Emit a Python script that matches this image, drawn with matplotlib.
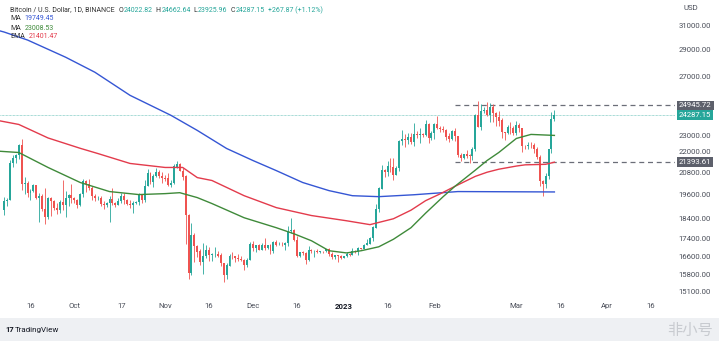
import pandas as pd
import matplotlib.pyplot as plt
import matplotlib.dates as mdates
from matplotlib.ticker import NullLocator, FixedLocator
from matplotlib.transforms import blended_transform_factory
from matplotlib.patches import Rectangle

# daily candles BTC/USD (Binance), 2022-09-07 .. 2023-03-14
start = '2022-09-07'
opens = [18790, 19290, 19320, 21360, 21650, 21830, 22400, 20170, 20230, 19700, 19800, 20110, 19420, 19540,
         18880, 18480, 19400, 19290, 18920, 18800, 19220, 19080, 19410, 19590,
         19420, 19310, 19060, 19620, 20340, 20160, 19960, 19530, 19420, 19440, 19130, 19060, 19160, 19380,
         19180, 19070, 19260, 19550, 19330, 19120, 19040, 19160, 19200, 19570, 19330, 20080, 20770, 20290,
         20600, 20810, 20630,
         20490, 20480, 20150, 20210, 21150, 21300, 20900, 20590, 18540, 15880, 17590, 17070, 16810, 16330,
         16620, 16900, 16660, 16690, 16700, 16630, 16280, 15780, 16190, 16610, 16600, 16520, 16460, 16430,
         16210, 16440,
         17170, 16970, 17090, 16890, 17110, 16970, 17090, 16840, 17230, 17130, 17130, 17090, 17210, 17780,
         17810, 17360, 16630, 16780, 16740, 16440, 16900, 16820, 16830, 16780, 16840, 16830, 16910, 16700,
         16550, 16630, 16600,
         16540, 16620, 16680, 16670, 16850, 16830, 16950, 16940, 17120, 17180, 17440, 17940, 18850, 19930,
         20950, 20870, 21180, 21140, 20670, 21070, 22670, 22780, 22710, 22920, 22630, 23060, 23010, 23080,
         23030, 23740, 22830,
         23130, 23730, 23490, 23430, 23330, 22940, 22760, 23260, 22960, 21800, 21630, 21860, 21790, 21780,
         22200, 24330, 23520, 24570, 24630, 24280, 24840, 24440, 24190, 23950, 23190, 23160, 23560, 23490,
         23140, 23650, 23470, 22360, 22350, 22430, 22410, 22200, 21700, 20360, 20190, 20630, 22160, 24022.82]
highs = [19460, 19450, 21550, 21800, 21860, 22490, 22800, 20550, 20340, 19890, 20190, 20110, 19690, 19630,
         19950, 19500, 19490, 19320, 19180, 19310, 20380, 19790, 19650, 20190,
         19480, 19390, 19720, 20480, 20370, 20460, 20060, 19620, 19560, 19530, 19260, 19230, 19510, 19950,
         19230, 19420, 19680, 19700, 19360, 19350, 19250, 19250, 19690, 19600, 20410, 21020, 20870, 20750,
         21090, 20930, 20840,
         20700, 20800, 20390, 21300, 21480, 21360, 21070, 20670, 18590, 18150, 17660, 17090, 16950, 17190,
         17130, 17000, 16750, 17010, 16820, 16750, 16290, 16280, 16680, 16810, 16610, 16700, 16600, 16480,
         16530, 17250,
         17320, 17100, 17150, 17200, 17420, 17110, 17140, 17300, 17360, 17230, 17270, 17240, 18000, 18390,
         17850, 17530, 16800, 16860, 16810, 17060, 16920, 16870, 16950, 16860, 16860, 16940, 16970, 16780,
         16660, 16650, 16640,
         16630, 16790, 16760, 16990, 16880, 17040, 16980, 17180, 17390, 17490, 17990, 19120, 19990, 21260,
         21000, 21470, 21640, 21650, 21190, 22750, 23370, 23080, 23170, 23160, 23820, 23290, 23500, 23170,
         23960, 23790, 23310,
         23810, 24260, 23590, 23580, 23430, 23160, 23370, 23450, 22990, 21940, 21900, 22090, 21890, 22320,
         24380, 25250, 25020, 24860, 25190, 25120, 25020, 24480, 24600, 24130, 23220, 23690, 23880, 23600,
         23950, 23790, 23480, 22420, 22620, 22600, 22550, 22270, 21820, 20370, 20790, 22190, 24500, 24662.64]
lows = [18540, 19000, 19300, 21110, 21360, 21560, 19860, 19620, 19500, 19320, 19760, 19370, 18230, 18740,
        18120, 18360, 18530, 18820, 18630, 18680, 18810, 18470, 19000, 19160,
        19160, 18920, 19000, 19500, 19730, 19860, 19320, 19260, 19320, 19030, 18860, 18970, 18190, 19070,
        18970, 19070, 19160, 19110, 19070, 18900, 18650, 19110, 19070, 19160, 19240, 20060, 20200, 20000,
        20550, 20530, 20250,
        20330, 20050, 20030, 20180, 21080, 20890, 20380, 17170, 15590, 15760, 16360, 16550, 16230, 15820,
        16530, 16370, 16400, 16550, 16560, 16160, 15480, 15630, 16160, 16460, 16350, 16400, 16400, 16000,
        16110, 16430,
        16860, 16790, 16880, 16870, 16870, 16910, 16680, 16730, 17060, 17090, 17070, 16870, 17080, 17660,
        17280, 16560, 16580, 16670, 16260, 16400, 16740, 16560, 16760, 16760, 16740, 16790, 16590, 16460,
        16490, 16330, 16470,
        16500, 16550, 16600, 16650, 16750, 16670, 16910, 16910, 17100, 17160, 17310, 17910, 18720, 19890,
        20560, 20600, 20840, 20400, 20660, 20880, 22420, 22300, 22510, 22460, 22330, 22850, 22530, 22880,
        22990, 22550, 22720,
        22760, 23380, 23200, 23250, 22750, 22630, 22700, 22680, 21690, 21450, 21600, 21630, 21350, 21530,
        22050, 23510, 23340, 24450, 24270, 23880, 23880, 23570, 23620, 22860, 22720, 23080, 23110, 23020,
        23020, 23200, 22000, 22200, 22200, 22260, 21930, 21580, 20050, 19550, 19950, 20430, 21920, 23925.96]
closes = [19290, 19320, 21360, 21650, 21830, 22400, 20170, 20230, 19700, 19800, 20110, 19420, 19540, 18880,
          18480, 19400, 19290, 18920, 18800, 19220, 19080, 19410, 19590, 19420,
          19310, 19060, 19620, 20340, 20160, 19960, 19530, 19420, 19440, 19130, 19060, 19160, 19380, 19180,
          19070, 19260, 19550, 19330, 19120, 19040, 19160, 19200, 19570, 19330, 20080, 20770, 20290, 20600,
          20810, 20630, 20490,
          20480, 20150, 20210, 21150, 21300, 20900, 20590, 18540, 15880, 17590, 17070, 16810, 16330, 16620,
          16900, 16660, 16690, 16700, 16630, 16280, 15780, 16190, 16610, 16600, 16520, 16460, 16430, 16210,
          16440, 17170,
          16970, 17090, 16890, 17110, 16970, 17090, 16840, 17230, 17130, 17130, 17090, 17210, 17780, 17810,
          17360, 16630, 16780, 16740, 16440, 16900, 16820, 16830, 16780, 16840, 16830, 16910, 16700, 16550,
          16630, 16600, 16540,
          16620, 16680, 16670, 16850, 16830, 16950, 16940, 17120, 17180, 17440, 17940, 18850, 19930, 20950,
          20870, 21180, 21140, 20670, 21070, 22670, 22780, 22710, 22920, 22630, 23060, 23010, 23080, 23030,
          23740, 22830, 23130,
          23730, 23490, 23430, 23330, 22940, 22760, 23260, 22960, 21800, 21630, 21860, 21790, 21780, 22200,
          24330, 23520, 24570, 24630, 24280, 24840, 24440, 24190, 23950, 23190, 23160, 23560, 23490, 23140,
          23650, 23470, 22360, 22350, 22430, 22410, 22200, 21700, 20360, 20190, 20630, 22160, 24022.82, 24287.15]

# moving averages
ma200_dates = ['2022-09-05', '2022-09-07', '2022-09-15', '2022-09-28', '2022-10-08', '2022-10-20', '2022-11-03',
               '2022-11-12', '2022-11-22', '2022-12-01', '2022-12-09', '2022-12-18', '2022-12-27', '2023-01-04',
               '2023-01-13', '2023-01-25', '2023-02-09', '2023-02-25', '2023-03-14']
ma200_vals = [30550, 30420, 29770, 28420, 27290, 25640, 24290, 23320, 22210, 21500, 20920, 20260, 19820, 19550,
              19500, 19600, 19770, 19760, 19749.45]
ema_dates = ['2022-09-05', '2022-09-12', '2022-09-22', '2022-10-03', '2022-10-09', '2022-10-20', '2022-11-01',
             '2022-11-07', '2022-11-12', '2022-11-17', '2022-11-28', '2022-12-09', '2022-12-21', '2023-01-02',
             '2023-01-10', '2023-01-18', '2023-01-24', '2023-01-29', '2023-02-03', '2023-02-08', '2023-02-15',
             '2023-02-19', '2023-02-23', '2023-03-01', '2023-03-04', '2023-03-11', '2023-03-14']
ema_vals = [23950, 23700, 22850, 22220, 21910, 21330, 21100, 21100, 20530, 20370, 19550, 18930, 18530, 18270,
            18080, 18370, 18800, 19290, 19650, 20050, 20600, 20830, 21000, 21180, 21250, 21280, 21401.47]
ma50_dates = ['2022-09-05', '2022-09-12', '2022-09-22', '2022-10-03', '2022-10-13', '2022-10-23', '2022-11-01',
              '2022-11-06', '2022-11-12', '2022-11-17', '2022-11-28', '2022-12-09', '2022-12-15', '2022-12-21',
              '2022-12-27', '2023-01-02', '2023-01-07', '2023-01-13', '2023-01-18', '2023-01-24', '2023-01-29',
              '2023-02-04', '2023-02-08', '2023-02-15', '2023-02-19', '2023-02-23', '2023-03-01', '2023-03-06',
              '2023-03-14']
ma50_vals = [22050, 21970, 21100, 20260, 19770, 19610, 19660, 19710, 19450, 19140, 18420, 17930, 17640, 17310,
             16850, 16750, 16850, 17030, 17380, 17930, 18650, 19500, 20050, 20950, 21500, 21970, 22820, 23070,
             23008.53]

yticks = [15100, 15800, 16600, 17400, 18400, 19600, 20800, 22000, 23000, 27000, 29000, 31000]
xtick_dates = ['2022-09-16', '2022-10-01', '2022-10-17', '2022-11-01', '2022-11-16', '2022-12-01', '2022-12-16',
               '2023-01-01', '2023-01-16', '2023-02-01', '2023-03-01', '2023-03-16', '2023-04-01', '2023-04-16']
xtick_labels = ['16', 'Oct', '17', 'Nov', '16', 'Dec', '16', '2023', '16', 'Feb', 'Mar', '16', 'Apr', '16']

plt.rcParams['font.family'] = ['Roboto', 'DejaVu Sans']
up_c = '#26a69a'
dn_c = '#ef5350'
txt_c = '#4a4e59'
blue_c = '#3556d4'
red_c = '#e33b4c'
green_c = '#3f8a3a'

dates = pd.date_range(start, periods=len(closes), freq='D')
x = mdates.date2num(dates)

W, H = 719, 341
fig = plt.figure(figsize=(W / 100, H / 100), dpi=100)
ax = fig.add_axes([0, 44 / H, 675 / W, 297 / H])
ax.set_yscale('log')

# candles
for xi, o, h, l, c in zip(x, opens, highs, lows, closes):
    col = up_c if c >= o else dn_c
    ax.vlines(xi, l, h, color=col, lw=0.6, zorder=2)
    ax.bar(xi, abs(c - o) + 5, bottom=min(o, c), width=0.66, color=col, lw=0, zorder=3)

ax.plot(mdates.date2num(pd.to_datetime(ma200_dates)), ma200_vals, color=blue_c, lw=1.0, zorder=4)
ax.plot(mdates.date2num(pd.to_datetime(ema_dates)), ema_vals, color=red_c, lw=1.0, zorder=4)
ax.plot(mdates.date2num(pd.to_datetime(ma50_dates)), ma50_vals, color=green_c, lw=1.0, zorder=4)

# levels
x_lvl = mdates.date2num(pd.Timestamp('2023-02-08'))
x_end = mdates.date2num(pd.Timestamp('2023-04-25'))
ax.hlines([24945.72, 21393.61], x_lvl, x_end, colors='#6b6e78', linestyles=(0, (4, 3)), lw=0.9, zorder=1)
ax.axhline(closes[-1], color=up_c, lw=0.5, ls=(0, (1, 1)), alpha=0.8, zorder=1)

ax.set_xlim(mdates.date2num(pd.Timestamp('2022-09-05 14:00')), mdates.date2num(pd.Timestamp('2023-04-24 05:00')))
ax.set_ylim(14870, 33170)

ax.yaxis.tick_right()
ax.yaxis.set_major_locator(FixedLocator(yticks))
ax.yaxis.set_minor_locator(NullLocator())
ax.set_yticklabels(['%.2f' % v for v in yticks])
ax.tick_params(axis='y', length=0, pad=2.5, labelsize=5.6, labelcolor=txt_c)

ax.set_xticks(mdates.date2num(pd.to_datetime(xtick_dates)))
ax.set_xticklabels(xtick_labels)
ax.tick_params(axis='x', length=0, pad=4, labelsize=5.6, labelcolor=txt_c)
for lab in ax.get_xticklabels():
    if lab.get_text() == '2023':
        lab.set_fontweight('bold')
        lab.set_color('#131722')
for s in ax.spines.values():
    s.set_visible(False)

# price tags on the scale
tr = blended_transform_factory(ax.transAxes, ax.transData)
for val, bg in [(24945.72, '#5d606b'), (closes[-1], up_c), (21393.61, '#5d606b')]:
    ax.text(1.006, val, '%.2f' % val, transform=tr, ha='left', va='center', fontsize=5.6, color='white',
            bbox=dict(boxstyle='square,pad=0.25', fc=bg, ec='none'), clip_on=False)

fig.text(683 / W, 1 - 8 / H, 'USD', fontsize=5.6, color=txt_c, va='center')

# header and indicator legend, laid out piece by piece
rend = fig.canvas.get_renderer()


def text_row(y_px, parts, x_px=10, size=5.0):
    for s, col, gap in parts:
        t = fig.text(x_px / W, 1 - y_px / H, s, fontsize=size, color=col, va='center')
        x_px += t.get_window_extent(rend).width + gap


text_row(10, [('Bitcoin / U.S. Dollar, 1D, BINANCE', '#333', 4),
              ('O', '#333', 0.5), ('24022.82', up_c, 3), ('H', '#333', 0.5), ('24662.64', up_c, 3),
              ('L', '#333', 0.5), ('23925.96', up_c, 3), ('C', '#333', 0.5), ('24287.15', up_c, 3),
              ('+267.87 (+1.12%)', up_c, 0)])
text_row(19, [('MA', '#333', 4), ('19749.45', blue_c, 0)])
text_row(28, [('MA', '#333', 4), ('23008.53', green_c, 0)])
text_row(37, [('EMA', '#333', 4), ('21401.47', red_c, 0)])

# footer strip
fig.patches.append(Rectangle((0, 0), 1, 23 / H, transform=fig.transFigure, fc='#eef0f3', ec='none', zorder=-1))
fig.text(5 / W, 11 / H, '17', fontsize=5.5, fontweight='bold', color='#131722', va='center')
fig.text(15 / W, 11 / H, 'TradingView', fontsize=5.8, color='#131722', va='center')
fig.text(690 / W, 11 / H, '非小号', fontsize=11, color='#c8cbd0', va='center', ha='center',
         family=['Noto Sans CJK SC', 'DejaVu Sans'])

plt.savefig('out.png', dpi=100)
